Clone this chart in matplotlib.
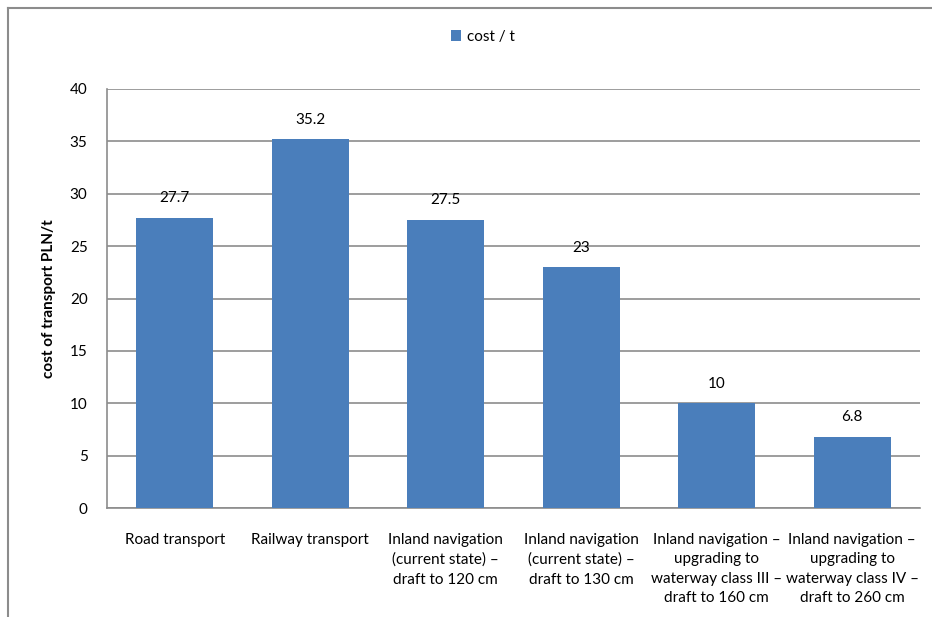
import matplotlib.pyplot as plt
from matplotlib.lines import Line2D

categories = [
    "Road transport",
    "Railway transport",
    "Inland navigation\n(current state) \u2013\ndraft to 120 cm",
    "Inland navigation\n(current state) \u2013\ndraft to 130 cm",
    "Inland navigation \u2013\nupgrading to\nwaterway class III \u2013\ndraft to 160 cm",
    "Inland navigation \u2013\nupgrading to\nwaterway class IV \u2013\ndraft to 260 cm",
]
costs = [27.7, 35.2, 27.5, 23, 10, 6.8]
cost_labels = ["27.7", "35.2", "27.5", "23", "10", "6.8"]
yticks = [0, 5, 10, 15, 20, 25, 30, 35, 40]

plt.rcParams["font.family"] = ["Lato", "DejaVu Sans"]
bar_color = "#4A7EBB"
grid_color = "#8C8C8C"

fig = plt.figure(figsize=(9.32, 6.17), dpi=100)
W, H = 932, 617

# outer chart frame (only left and top edges visible)
fig.add_artist(Line2D([8 / W, 8 / W], [0, 1 - 8 / H], transform=fig.transFigure,
                      color="#8C8C8C", lw=1.5))
fig.add_artist(Line2D([8 / W, 1], [1 - 8 / H, 1 - 8 / H], transform=fig.transFigure,
                      color="#8C8C8C", lw=1.5))

ax = fig.add_axes([107 / W, 1 - 508 / H, 813 / W, 419 / H])
x = range(len(categories))
bars = ax.bar(x, costs, width=0.57, color=bar_color, label="cost / t", zorder=3)

for xi, v, lab in zip(x, costs, cost_labels):
    ax.text(xi, v + 1.2, lab, ha="center", va="bottom", fontsize=11)

ax.set_xlim(-0.5, len(categories) - 0.5)
ax.set_ylim(0, 40)
ax.set_yticks(yticks)
ax.set_xticks(list(x))
ax.set_xticklabels(categories, fontsize=11, linespacing=1.5)
ax.tick_params(axis="both", length=0, labelsize=11)
ax.tick_params(axis="x", pad=18)
ax.tick_params(axis="y", pad=14)
ax.yaxis.grid(True, color=grid_color, lw=1.2, zorder=0)

for s in ["top", "right"]:
    ax.spines[s].set_visible(False)
for s in ["left", "bottom"]:
    ax.spines[s].set_color(grid_color)
    ax.spines[s].set_linewidth(1.2)

ax.set_ylabel("cost of transport PLN/t", fontsize=11, fontweight="bold", labelpad=10)

fig.legend(loc="center", bbox_to_anchor=(483 / W, 1 - 37 / H), frameon=False,
           fontsize=11, handlelength=0.7, handleheight=0.7, handletextpad=0.4)

fig.savefig("out.png", dpi=100)
